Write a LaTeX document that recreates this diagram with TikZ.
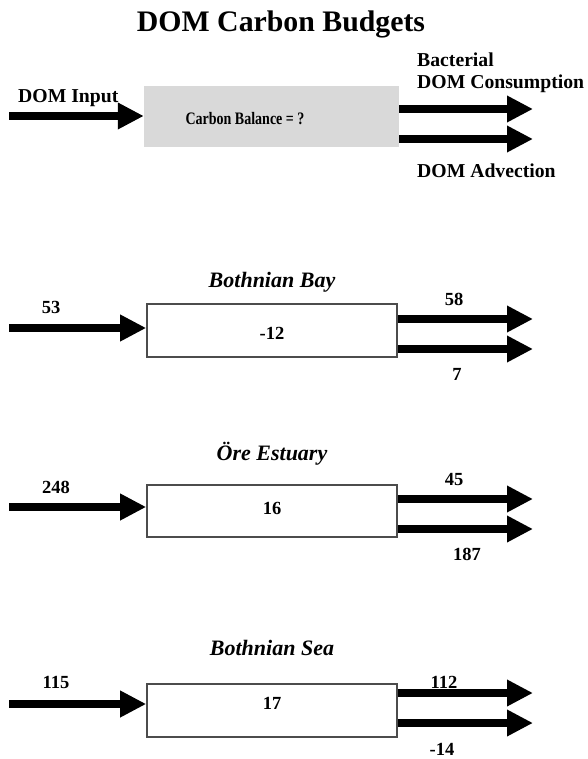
\documentclass[tikz,border=0pt]{standalone}
\usepackage{fontspec}
\setmainfont{Liberation Serif}
\usetikzlibrary{arrows.meta}
\tikzset{
  lbl/.style={font=\bfseries\fontsize{19.7}{22}\selectfont, inner sep=0pt, anchor=base west},
  num/.style={font=\bfseries\fontsize{18.5}{20}\selectfont, inner sep=0pt, anchor=base},
  ttl/.style={font=\bfseries\itshape\fontsize{22}{24}\selectfont, inner sep=0pt, anchor=base},
  fat/.style={line width=8pt, -{Triangle[length=26pt,width=25pt]}},
  budgetbox/.style={draw=black!70, line width=1.6pt, fill=white, minimum width=250pt, minimum height=53pt, inner sep=0pt},
  graybox/.style={fill=black!15, minimum width=255pt, minimum height=61pt, inner sep=0pt},
}
\begin{document}
\begin{tikzpicture}[x=1pt,y=-1pt]
\useasboundingbox (0,0) rectangle (587,759);

% Title
\node[font=\bfseries\fontsize{29.8}{32}\selectfont, inner sep=0pt, anchor=base] (title) at (281,32) {DOM Carbon Budgets};

% ---------- Top schematic ----------
\node[graybox] (gbox) at (271.5,116.5) {};
\node[font=\bfseries\fontsize{17.5}{20}\selectfont, inner sep=0pt] (gtext) at (245,119) {\scalebox{0.8}[1]{Carbon Balance = ?}};
\coordinate (gin) at (9,116);
\coordinate (gout1) at (533,109);
\coordinate (gout2) at (533,139);
\draw[fat] (gin) -- (gbox.west |- gin);
\draw[fat] (gbox.east |- gout1) -- (gout1);
\draw[fat] (gbox.east |- gout2) -- (gout2);
\node[lbl] (ginl) at (18,103) {DOM Input};
\node[lbl] (bact) at (417,67) {Bacterial};
\node[lbl] (cons) at (417,89) {DOM Consumption};
\node[lbl] (adv) at (417,178) {DOM Advection};

% ---------- Bothnian Bay ----------
\node[ttl] (t1) at (272,287) {Bothnian Bay};
\node[budgetbox] (b1) at (272,330.5) {};
\node[num, anchor=center] (v1) at (272,333) {-12};
\coordinate (i1) at (9,328);
\coordinate (o1a) at (533,319);
\coordinate (o1b) at (533,349);
\draw[fat] (i1) -- (b1.west |- i1);
\draw[fat] (b1.east |- o1a) -- (o1a);
\draw[fat] (b1.east |- o1b) -- (o1b);
\node[num] (n1in) at (51,313) {53};
\node[num] (n1a) at (454,305) {58};
\node[num] (n1b) at (457,380) {7};

% ---------- Ore Estuary ----------
\node[ttl] (t2) at (272,460) {Öre Estuary};
\node[budgetbox, minimum height=52pt] (b2) at (272,511) {};
\node[num, anchor=center] (v2) at (272,508) {16};
\coordinate (i2) at (9,507);
\coordinate (o2a) at (533,499);
\coordinate (o2b) at (533,529);
\draw[fat] (i2) -- (b2.west |- i2);
\draw[fat] (b2.east |- o2a) -- (o2a);
\draw[fat] (b2.east |- o2b) -- (o2b);
\node[num] (n2in) at (56,493) {248};
\node[num] (n2a) at (454,485) {45};
\node[num] (n2b) at (467,560) {187};

% ---------- Bothnian Sea ----------
\node[ttl] (t3) at (272,655) {Bothnian Sea};
\node[budgetbox] (b3) at (272,710.5) {};
\node[num, anchor=center] (v3) at (272,703) {17};
\coordinate (i3) at (9,704);
\coordinate (o3a) at (533,693);
\coordinate (o3b) at (533,723);
\draw[fat] (i3) -- (b3.west |- i3);
\draw[fat] (b3.east |- o3a) -- (o3a);
\draw[fat] (b3.east |- o3b) -- (o3b);
\node[num] (n3in) at (56,688) {115};
\node[num] (n3a) at (444,688) {112};
\node[num] (n3b) at (442,755) {-14};
\end{tikzpicture}
\end{document}
